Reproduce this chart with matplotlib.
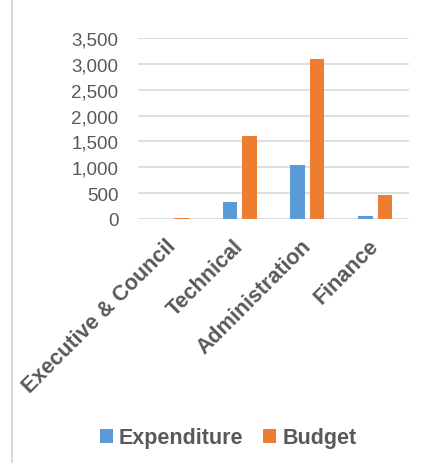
import numpy as np
import matplotlib.pyplot as plt
import matplotlib.transforms as mtransforms
from matplotlib.lines import Line2D

categories = ["Executive & Council", "Technical", "Administration", "Finance"]
expenditure = [5, 327, 1048, 52]
budget = [27, 1612, 3091, 462]
yticks = [0, 500, 1000, 1500, 2000, 2500, 3000, 3500]

plt.rcParams['font.family'] = ['Liberation Sans', 'DejaVu Sans']
text_col = "#595959"

fig = plt.figure(figsize=(4.22, 4.64), dpi=100)
ax = fig.add_axes([138 / 422, 1 - 220 / 464, 271 / 422, 181 / 464])

x = np.arange(len(categories))
w = 0.215
ax.bar(x - 0.144, expenditure, w, color="#5b9bd5", label="Expenditure", zorder=3)
ax.bar(x + 0.144, budget, w, color="#ed7d31", label="Budget", zorder=3)

ax.set_xlim(-0.5, len(categories) - 0.5)
ax.set_ylim(0, 3500)
ax.set_yticks(yticks)
ax.set_yticklabels([f"{v:,}" for v in yticks], fontsize=13.5, color=text_col)
ax.yaxis.grid(True, color="#d9d9d9", linewidth=1.2, zorder=0)
ax.tick_params(axis="y", length=0, pad=14)
ax.tick_params(axis="x", length=0, pad=6)
ax.set_xticks(x)
ax.set_xticklabels(categories, rotation=45, ha="right", rotation_mode="anchor",
                   fontsize=15.5, fontweight="bold", color=text_col)
# nudge the slanted labels down-left like the original
shift = mtransforms.ScaledTranslation(-7 / 100, -8 / 100, fig.dpi_scale_trans)
for lab in ax.get_xticklabels():
    lab.set_transform(lab.get_transform() + shift)
for s in ax.spines.values():
    s.set_visible(False)

fig.legend(loc="center", bbox_to_anchor=(228 / 422, 1 - 439 / 464), ncol=2,
           frameon=False, prop={"size": 15.5, "weight": "bold"},
           labelcolor=text_col, handlelength=0.6, handleheight=0.6,
           handletextpad=0.3, columnspacing=0.9)

fig.add_artist(Line2D([11.5 / 422, 11.5 / 422], [0, 1], transform=fig.transFigure,
                      color="#d9d9d9", linewidth=1.5))

fig.savefig("out.png", dpi=100)
